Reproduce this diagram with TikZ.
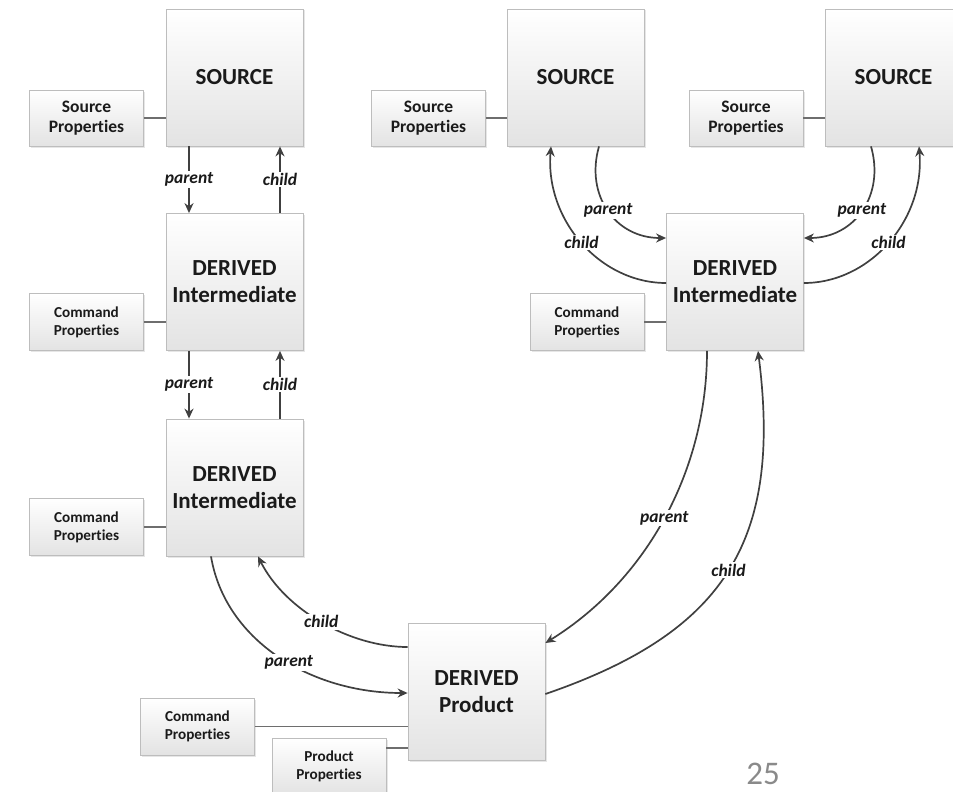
\documentclass[tikz,border=0pt]{standalone}
\usepackage{fontspec}
\setmainfont{Carlito}[Ligatures=NoCommon]
\usetikzlibrary{arrows.meta,shadows}

\definecolor{boxline}{HTML}{BDBDBD}
\definecolor{boxbottom}{HTML}{E3E3E3}
\definecolor{arrowgray}{HTML}{404040}
\definecolor{linkgray}{HTML}{6E6E6E}
\definecolor{ink}{HTML}{1A1A1A}
\definecolor{pagenum}{HTML}{8A8A8A}

% "Properties" set without the t-i ligature
\newcommand\propword{Propert\kern0pt ies}

\tikzset{
  box/.style={draw=boxline, line width=0.8pt, top color=white, bottom color=boxbottom,
    drop shadow={shadow xshift=1.5pt, shadow yshift=-1.5pt, opacity=0.22, fill=black!45},
    align=center, inner sep=0pt, text=ink},
  bigbox/.style={box, minimum width=137pt, minimum height=137pt,
    font=\fontsize{23}{27}\selectfont\bfseries},
  srcprop/.style={box, minimum width=114pt, minimum height=56pt,
    font=\fontsize{17.5}{20}\selectfont\bfseries},
  cmdprop/.style={box, minimum width=114pt, minimum height=57pt,
    font=\fontsize{15.2}{18}\selectfont\bfseries},
  link/.style={draw=linkgray, line width=1.5pt},
  rel/.style={draw=arrowgray, line width=1.7pt, -{Stealth[length=10pt,width=9pt]}},
  lbl/.style={fill=white, inner sep=1.5pt, text=ink,
    font=\fontsize{17.5}{20}\selectfont\bfseries\itshape},
}

\begin{document}
\begin{tikzpicture}[x=1pt, y=-1pt]
\useasboundingbox (0,0) rectangle (953,792);

% left chain: source, two intermediates
\node[bigbox] (S1) at (234.5,77.5) {SOURCE};
\node[srcprop] (SP1) at (86.5,118) {Source\\\propword};
\node[bigbox] (D1) at (234.5,282) {DERIVED\\Intermediate};
\node[cmdprop] (CP1) at (86.5,322) {Command\\\propword};
\node[bigbox] (D2) at (234.5,487.5) {DERIVED\\Intermediate};
\node[cmdprop] (CP2) at (86.5,527) {Command\\\propword};

% product at the bottom
\node[bigbox] (P) at (476.5,692) {DERIVED\\Product};
\node[cmdprop] (CP3) at (197.5,726.5) {Command\\\propword};
\node[cmdprop] (PP) at (329,766.5) {Product\\\propword};

% right side: two sources feeding one intermediate
\node[bigbox] (S2) at (575.5,77.5) {SOURCE};
\node[srcprop] (SP2) at (428.5,118) {Source\\\propword};
\node[bigbox] (S3) at (893.5,77.5) {SOURCE};
\node[srcprop] (SP3) at (746,118) {Source\\\propword};
\node[bigbox] (D3) at (735,282) {DERIVED\\Intermediate};
\node[cmdprop] (CP4) at (587,322) {Command\\\propword};

% property attachments
\draw[link] (SP1.east) -- (SP1.east -| S1.west);
\draw[link] (CP1.east) -- (CP1.east -| D1.west);
\draw[link] (CP2.east) -- (CP2.east -| D2.west);
\draw[link] (CP3.east) -- (CP3.east -| P.west);
\draw[link] ([yshift=18.5pt]PP.east) -- ([yshift=18.5pt]PP.east -| P.west);
\draw[link] (SP2.east) -- (SP2.east -| S2.west);
\draw[link] (SP3.east) -- (SP3.east -| S3.west);
\draw[link] (CP4.east) -- (CP4.east -| D3.west);

% straight parent/child links in the left chain
\draw[rel] ([xshift=-45.5pt]S1.south) -- node[lbl]{parent} ([xshift=-45.5pt]D1.north);
\draw[rel] ([xshift=45.5pt]D1.north) -- node[lbl]{child} ([xshift=45.5pt]S1.south);
\draw[rel] ([xshift=-45.5pt]D1.south) -- node[lbl]{parent} ([xshift=-45.5pt]D2.north);
\draw[rel] ([xshift=45.5pt]D2.north) -- node[lbl]{child} ([xshift=45.5pt]D1.south);

% left intermediate <-> product
\draw[rel] ([xshift=-23.5pt]D2.south) .. controls (225,640) and (310,693) .. node[lbl, pos=0.55]{parent} ([yshift=-1pt]P.west);
\draw[rel] ([yshift=45pt]P.west) .. controls (350,647) and (285,610) .. node[lbl]{child} ([xshift=23.5pt]D2.south);

% right sources <-> right intermediate
\draw[rel] ([xshift=23.5pt]S2.south) .. controls (585,195) and (615,238) .. node[lbl]{parent} ([yshift=44pt]D3.west);
\draw[rel] ([yshift=-1pt]D3.west) .. controls (600,283) and (545,220) .. node[lbl]{child} ([xshift=-24.5pt]S2.south);
\draw[rel] ([xshift=-22.5pt]S3.south) .. controls (885,195) and (855,238) .. node[lbl]{parent} ([yshift=44pt]D3.east);
\draw[rel] ([yshift=-1pt]D3.east) .. controls (870,283) and (925,220) .. node[lbl]{child} ([xshift=25.5pt]S3.south);

% right intermediate <-> product
\draw[rel] ([xshift=-28pt]D3.south) .. controls (707,470) and (647,580) .. node[lbl]{parent} ([yshift=49pt]P.east);
\draw[rel] ([yshift=-2pt]P.east) .. controls (726,632) and (782,540) .. node[lbl]{child} ([xshift=23pt]D3.south);

% page number
\node[text=pagenum, font=\fontsize{33}{36}\selectfont] (num) at (763,774) {25};
\end{tikzpicture}
\end{document}
